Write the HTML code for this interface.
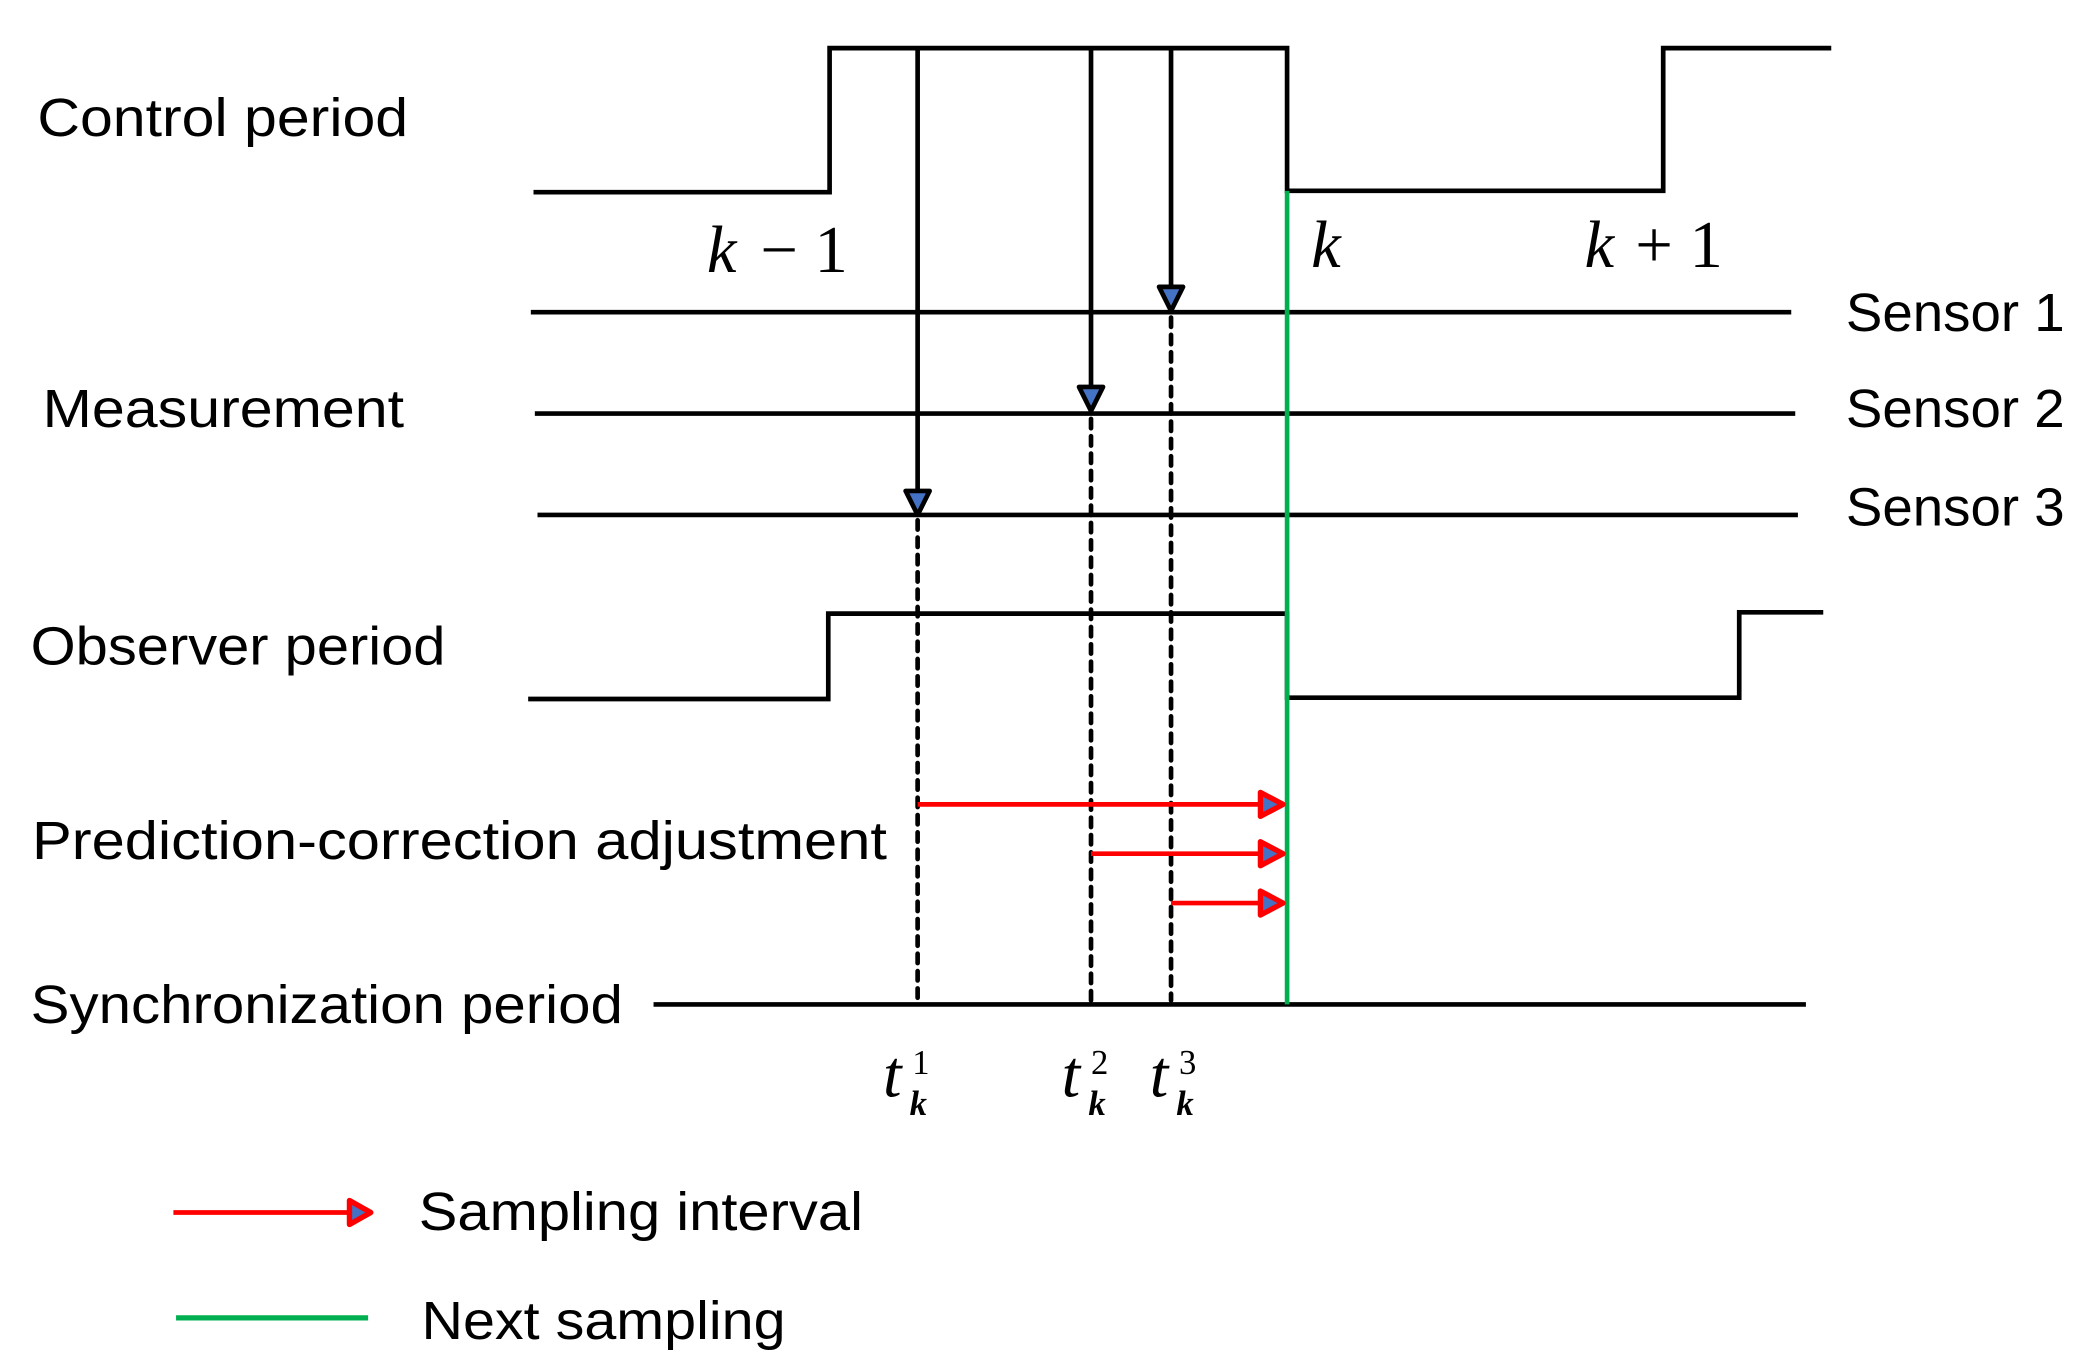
<!DOCTYPE html>
<html><head><meta charset="utf-8"><style>
html,body{margin:0;padding:0;background:#fff;}
svg{display:block;}
.s{font-family:"Liberation Sans",sans-serif;}
.r{font-family:"Liberation Serif",serif;}
.m{font-family:"Liberation Serif",serif;font-style:italic;}
</style></head><body>
<svg width="2078" height="1370" viewBox="0 0 1558 1027" xmlns="http://www.w3.org/2000/svg">
<g fill="none" stroke="#000" stroke-width="3.5">
<polyline points="400,144 622,144 622,36 965,36 965,143 1247,143 1247,36 1373,36"/>
<line x1="398" y1="234" x2="1343" y2="234"/>
<line x1="401" y1="310" x2="1346" y2="310"/>
<line x1="403" y1="386" x2="1348" y2="386"/>
<polyline points="396,524 621,524 621,460 965,460 965,523 1304,523 1304,459 1367,459"/>
<line x1="490" y1="753" x2="1354" y2="753"/>
<line x1="688" y1="36" x2="688" y2="370"/>
<line x1="818" y1="36" x2="818" y2="292"/>
<line x1="878" y1="36" x2="878" y2="216"/>
</g>
<g stroke="#000" stroke-width="3.5" stroke-dasharray="7,6" stroke-linecap="round">
<line x1="688" y1="390" x2="688" y2="750"/>
<line x1="818" y1="314" x2="818" y2="750"/>
<line x1="878" y1="238" x2="878" y2="750"/>
</g>
<g fill="#4472c4" stroke="#000" stroke-width="3.5" stroke-linejoin="round">
<polygon points="679,368 697,368 688,386"/>
<polygon points="809,290 827,290 818,308"/>
<polygon points="869,215 887,215 878,233"/>
</g>
<line x1="965" y1="143" x2="965" y2="753" stroke="#00b050" stroke-width="3.5"/>
<g stroke="red" stroke-width="3.5">
<line x1="688" y1="603" x2="945" y2="603"/>
<line x1="818" y1="640" x2="945" y2="640"/>
<line x1="878" y1="677" x2="945" y2="677"/>
<line x1="130" y1="909" x2="262" y2="909"/>
</g>
<g fill="#4472c4" stroke="red" stroke-width="4" stroke-linejoin="round">
<polygon points="945,594 945,612 962,603"/>
<polygon points="945,631 945,649 962,640"/>
<polygon points="945,668 945,686 962,677"/>
<polygon points="262,900 262,918 278,909"/>
</g>
<line x1="132" y1="988" x2="276" y2="988" stroke="#00b050" stroke-width="4"/>
<g font-size="40" fill="#000" class="s">
<text class="s" x="28" y="102" textLength="278" lengthAdjust="spacingAndGlyphs">Control period</text>
<text class="s" x="32" y="320" textLength="271" lengthAdjust="spacingAndGlyphs">Measurement</text>
<text class="s" x="23" y="498" textLength="311" lengthAdjust="spacingAndGlyphs">Observer period</text>
<text class="s" x="24" y="644" textLength="641" lengthAdjust="spacingAndGlyphs">Prediction-correction adjustment</text>
<text class="s" x="23" y="767" textLength="444" lengthAdjust="spacingAndGlyphs">Synchronization period</text>
<text class="s" x="1384" y="248" textLength="164" lengthAdjust="spacingAndGlyphs">Sensor 1</text>
<text class="s" x="1384" y="320" textLength="164" lengthAdjust="spacingAndGlyphs">Sensor 2</text>
<text class="s" x="1384" y="394" textLength="164" lengthAdjust="spacingAndGlyphs">Sensor 3</text>
<text class="s" x="314" y="922" textLength="333" lengthAdjust="spacingAndGlyphs">Sampling interval</text>
<text class="s" x="316" y="1004" textLength="273" lengthAdjust="spacingAndGlyphs">Next sampling</text>
</g>
<g font-size="50" fill="#000">
<text class="m" x="530" y="204">k</text>
<text class="r" x="570" y="204">− 1</text>
<text class="m" x="983" y="200">k</text>
<text class="m" x="1188" y="200">k</text>
<text class="r" x="1226" y="200">+ 1</text>
<text class="m" x="662" y="822">t</text>
<text class="m" x="796" y="822">t</text>
<text class="m" x="862" y="822">t</text>
</g>
<g font-size="26" fill="#000">
<text class="r" x="684" y="805">1</text>
<text class="r" x="818" y="805">2</text>
<text class="r" x="884" y="805">3</text>
<text class="m" x="682" y="836" font-weight="bold">k</text>
<text class="m" x="816" y="836" font-weight="bold">k</text>
<text class="m" x="882" y="836" font-weight="bold">k</text>
</g>
</svg>
</body></html>
